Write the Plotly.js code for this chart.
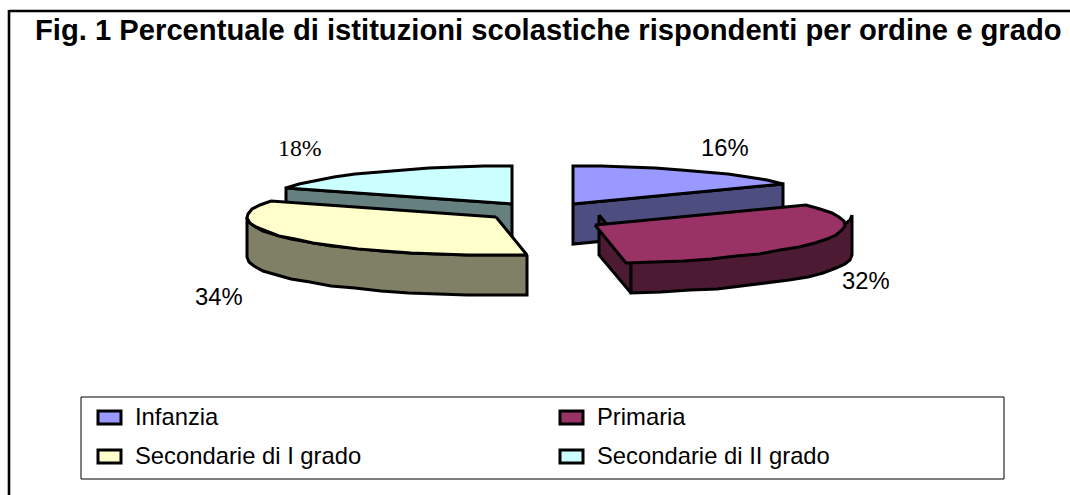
<!DOCTYPE html>
<html>
<head>
<meta charset="utf-8">
<script src="https://cdn.plot.ly/plotly-3.0.1.min.js"></script>
<style>html,body{margin:0;padding:0;background:#fff}#chart{width:1070px;height:495px}</style>
</head>
<body>
<div id="chart"></div>
<script>
// ---- data ----
var categories = ['Infanzia', 'Primaria', 'Secondarie di I grado', 'Secondarie di II grado'];
var shares = [16, 32, 34, 18];
var chartTitle = 'Fig. 1 Percentuale di istituzioni scolastiche rispondenti per ordine e grado';

// ---- styles ----
var topColors = ['#9999FF', '#993366', '#FFFFCC', '#CCFFFF'];
var sideColors = ['#4D4D80', '#4D1A33', '#808066', '#668080'];

// ---- projection of the exploded 3D pie (angles come from the shares) ----
var total = shares.reduce(function (a, b) { return a + b; }, 0);
var bounds = [0];
shares.forEach(function (v, i) { bounds.push(bounds[i] + v / total * 360); });

var faces = [
  {cx: 573, cy: 204, rx: 249, ry: 38},
  {cx: 595, cy: 225, rx: 250, ry: 38},
  {cx: 496, cy: 217, rx: 249, ry: 38},
  {cx: 512, cy: 204, rx: 250, ry: 38}
];
var DEPTH = 40;

function pt(e, deg, dy) {
  var a = deg * Math.PI / 180;
  return [Math.round(e.cx + e.rx * Math.sin(a)), Math.round(e.cy - e.ry * Math.cos(a) + (dy || 0))];
}
function arc(e, a0, a1, dy) {
  var n = Math.max(2, Math.ceil(Math.abs(a1 - a0) / 7)), out = [];
  for (var k = 0; k <= n; k++) out.push(pt(e, a0 + (a1 - a0) * k / n, dy));
  return out;
}
function poly(points, fill, name) {
  return {
    type: 'scatter', mode: 'lines', fill: 'toself', fillcolor: fill,
    x: points.map(function (p) { return p[0]; }),
    y: points.map(function (p) { return p[1]; }),
    line: {color: '#000', width: 3, shape: 'linear'},
    name: name, showlegend: false, hoverinfo: 'skip'
  };
}
function closed(points) { return points.concat([points[0]]); }
function wedge(i) {
  var e = faces[i], pts = [[e.cx, e.cy]].concat(arc(e, bounds[i], bounds[i + 1]));
  return poly(closed(pts), topColors[i], categories[i]);
}
function cutFace(i, e, deg, depth) {
  var r = pt(e, deg), rb = pt(e, deg, depth);
  return poly(closed([[e.cx, e.cy], r, rb, [e.cx, e.cy + depth]]), sideColors[i], categories[i] + ' lato');
}
function rim(i, e, a0, a1, depth) {
  var pts = arc(e, a0, a1).concat(arc(e, a1, a0, depth));
  return poly(closed(pts), sideColors[i], categories[i] + ' bordo');
}

var primariaSide = {cx: 599, cy: 215, rx: 253, ry: 38};
var traces = [
  cutFace(3, faces[3], bounds[3], DEPTH),
  wedge(3),
  rim(2, faces[2], bounds[2], 270, 40),
  wedge(2),
  cutFace(0, faces[0], bounds[1], DEPTH),
  wedge(0),
  cutFace(1, primariaSide, bounds[2], DEPTH),
  rim(1, primariaSide, 90, bounds[2], DEPTH),
  wedge(1)
];

// ---- layout ----
var sansFont = 'Liberation Sans, Arial, sans-serif';
var labelPos = [[725, 147], [866, 280], [219, 296], [300, 148]];
var labelFonts = [sansFont, sansFont, sansFont, 'Liberation Serif, serif'];
var legendCols = [97, 559];
var legendRows = [418, 457];

var annotations = [{
  x: 548, y: 30, xref: 'x', yref: 'y', text: '<b>' + chartTitle + '</b>', showarrow: false,
  xanchor: 'center', yanchor: 'middle', font: {family: sansFont, size: 29.2, color: '#000'}
}];
shares.forEach(function (v, i) {
  annotations.push({
    x: labelPos[i][0], y: labelPos[i][1], xref: 'x', yref: 'y', text: v + '%', showarrow: false,
    xanchor: 'center', yanchor: 'middle', font: {family: labelFonts[i], size: 23.8, color: '#000'}
  });
});

var shapes = [
  {type: 'line', xref: 'x', yref: 'y', x0: 9, x1: 1070, y0: 11, y1: 11, line: {color: '#000', width: 2.6}},
  {type: 'line', xref: 'x', yref: 'y', x0: 9, x1: 9, y0: 10, y1: 495, line: {color: '#000', width: 2.6}},
  {type: 'rect', xref: 'x', yref: 'y', x0: 81, x1: 1004, y0: 397, y1: 479, fillcolor: '#fff', line: {color: '#000', width: 1}, layer: 'below'}
];
categories.forEach(function (c, i) {
  var col = legendCols[i % 2], row = legendRows[Math.floor(i / 2)];
  shapes.push({
    type: 'rect', xref: 'x', yref: 'y', x0: col + 1, x1: col + 24, y0: row - 7, y1: row + 6,
    fillcolor: topColors[i], line: {color: '#000', width: 3}
  });
  annotations.push({
    x: col + 35.5, y: row - 2, xref: 'x', yref: 'y', text: c, showarrow: false,
    xanchor: 'left', yanchor: 'middle', font: {family: sansFont, size: 23.8, color: '#000'}
  });
});

var layout = {
  width: 1070, height: 495,
  margin: {l: 0, r: 0, t: 0, b: 0},
  paper_bgcolor: '#fff', plot_bgcolor: '#fff',
  showlegend: false,
  xaxis: {range: [0, 1070], visible: false, fixedrange: true},
  yaxis: {range: [495, 0], visible: false, fixedrange: true},
  annotations: annotations,
  shapes: shapes
};
Plotly.newPlot('chart', traces, layout, {displayModeBar: false, staticPlot: true});
</script>
</body>
</html>
